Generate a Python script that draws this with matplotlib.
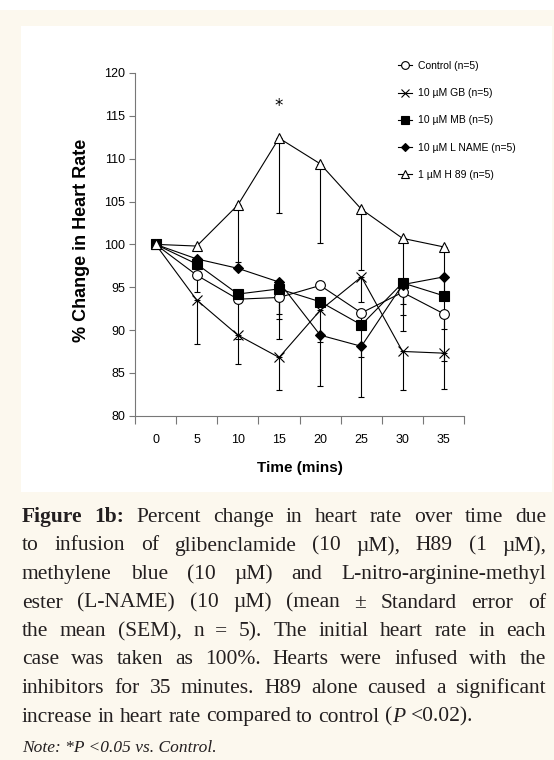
import matplotlib
matplotlib.use('Agg')
import matplotlib.pyplot as plt
from matplotlib.patches import Rectangle
import numpy as np

W, H = 554, 760
cream = '#fcf8ee'

# time points (mins)
time = [0, 5, 10, 15, 20, 25, 30, 35]

# % change in heart rate
control = [100, 96.4, 93.6, 93.8, 95.2, 92.0, 94.4, 91.9]
gb = [100, 93.5, 89.4, 86.8, 92.3, 96.2, 87.5, 87.3]
mb = [100, 97.7, 94.2, 94.8, 93.3, 90.6, 95.5, 94.0]
lname = [100, 98.3, 97.2, 95.6, 89.4, 88.1, 95.3, 96.2]
h89 = [100, 99.8, 104.6, 112.4, 109.4, 104.1, 100.7, 99.7]

# SEM (only the minus side is shown in the original)
control_sem = [0, 2.0, 4.6, 2.5, 0, 5.2, 4.5, 1.8]
gb_sem = [0, 5.1, 3.4, 3.8, 3.7, 2.9, 4.5, 4.2]
mb_sem = [0, 0, 0, 2.9, 0, 0, 3.8, 0]
lname_sem = [0, 0, 0, 6.7, 5.9, 5.9, 0, 9.8]
h89_sem = [0, 0, 6.7, 8.7, 9.3, 7.1, 7.7, 6.0]

labels = ['Control (n=5)', '10 µM GB (n=5)', '10 µM MB (n=5)',
          '10 µM L NAME (n=5)', '1 µM H 89 (n=5)']

sans = ['Liberation Sans Narrow', 'Liberation Sans', 'DejaVu Sans']
serif = ['Liberation Serif', 'DejaVu Serif']

fig = plt.figure(figsize=(W / 100, H / 100), dpi=100)
fig.patch.set_facecolor(cream)
# white strip on top and white panel behind the chart
fig.add_artist(Rectangle((0, 1 - 10 / H), 1, 10 / H, transform=fig.transFigure,
                         facecolor='white', edgecolor='none', zorder=0))
fig.add_artist(Rectangle((21 / W, 1 - 492 / H), (552 - 21) / W, (492 - 26) / H,
                         transform=fig.transFigure, facecolor='white',
                         edgecolor='none', zorder=0))

ax = fig.add_axes([135 / W, 1 - 415.7 / H, (464.3 - 135) / W, (415.7 - 73) / H])
ax.patch.set_alpha(0)

x = np.arange(len(time))
series = [
    (control, control_sem, dict(marker='o', ms=7, mfc='white')),
    (gb, gb_sem, dict(marker='x', ms=7, mfc='black')),
    (mb, mb_sem, dict(marker='s', ms=6.5, mfc='black')),
    (lname, lname_sem, dict(marker='D', ms=5.5, mfc='black')),
    (h89, h89_sem, dict(marker='^', ms=7.5, mfc='white')),
]

handles = []
for (vals, sem, st), lab in zip(series, labels):
    vals = np.array(vals)
    sem = np.array(sem)
    m = sem > 0
    ax.errorbar(x[m], vals[m], yerr=[sem[m], np.zeros(m.sum())], fmt='none',
                ecolor='black', elinewidth=0.8, capsize=2.5, capthick=0.8, zorder=2)
    ln, = ax.plot(x, vals, color='black', lw=0.8, mec='black', mew=0.8,
                  zorder=3, label=lab, **st)
    handles.append(ln)

ax.text(3, 116.1, '*', ha='center', va='center', fontsize=12)

ax.set_xlim(-0.5, 7.5)
ax.set_ylim(80, 120)
ax.set_yticks(np.arange(80, 121, 5))
ax.set_xticks(np.arange(-0.5, 8, 1))
ax.set_xticklabels([])
ax.set_xticks(x, minor=True)
ax.set_xticklabels([str(t) for t in time], minor=True)
ax.tick_params(axis='x', which='major', length=6, color='#777777', width=0.8)
ax.tick_params(axis='x', which='minor', length=0, pad=13)
ax.tick_params(axis='y', length=4, color='#777777', width=0.8, pad=3)
for lab in ax.get_xticklabels(minor=True) + ax.get_yticklabels():
    lab.set_family(sans)
    lab.set_fontsize(9)
for s in ['top', 'right']:
    ax.spines[s].set_visible(False)
for s in ['left', 'bottom']:
    ax.spines[s].set_color('#777777')
    ax.spines[s].set_linewidth(0.8)

ax.set_xlabel('Time (mins)', family=sans, fontsize=11, fontweight='bold', labelpad=11)
fig.text(82 / W, 1 - 240 / H, '% Change in Heart Rate', rotation=90, ha='center',
         va='center', family=sans, fontsize=13, fontweight='bold')

fig.legend(handles=handles, loc='upper left', bbox_to_anchor=(398 / W, 1 - 61 / H),
           frameon=False, prop={'family': sans, 'size': 7.5}, handlelength=1.3,
           handletextpad=0.6, labelspacing=1.65, borderaxespad=0, borderpad=0,
           markerscale=0.8)

# caption, justified by hand
cap_lines = [
    "Figure 1b: Percent change in heart rate over time due",
    "to infusion of glibenclamide (10 µM), H89 (1 µM),",
    "methylene blue (10 µM) and L-nitro-arginine-methyl",
    "ester (L-NAME) (10 µM) (mean ± Standard error of",
    "the mean (SEM), n = 5). The initial heart rate in each",
    "case was taken as 100%. Hearts were infused with the",
    "inhibitors for 35 minutes. H89 alone caused a significant",
    "increase in heart rate compared to control (P <0.02).",
]
cap_size = 15.5
x0, x1 = 22, 546
renderer = fig.canvas.get_renderer()


def pieces_of(i, word):
    if i == 0 and word in ('Figure', '1b:'):
        return [(word, dict(fontweight='bold'))]
    if word == '(P':
        return [('(', {}), ('P', dict(fontstyle='italic'))]
    return [(word, {})]


def put_line(i, line, ybase, justify):
    items, widths = [], []
    for word in line.split(' '):
        row, ww = [], 0
        for s, kw in pieces_of(i, word):
            t = fig.text(0, 1 - ybase / H, s, family=serif, fontsize=cap_size,
                         color='#231f20', va='baseline', **kw)
            pw = t.get_window_extent(renderer).width
            row.append((t, pw))
            ww += pw
        items.append(row)
        widths.append(ww)
    space = cap_size * 0.25 * 100 / 72
    if justify:
        gap = max((x1 - x0 - sum(widths)) / (len(items) - 1), 1.5)
    else:
        gap = space
    xx = x0
    for row in items:
        for t, pw in row:
            t.set_x(xx / W)
            xx += pw
        xx += gap


for i, line in enumerate(cap_lines):
    put_line(i, line, 522 + 28.5 * i, justify=(i < len(cap_lines) - 1))

fig.text(x0 / W, 1 - 752 / H, 'Note: *P <0.05 vs. Control.', family=serif,
         fontstyle='italic', fontsize=12.5, color='#231f20', va='baseline')

fig.savefig('out.png', dpi=100, facecolor=fig.get_facecolor())
